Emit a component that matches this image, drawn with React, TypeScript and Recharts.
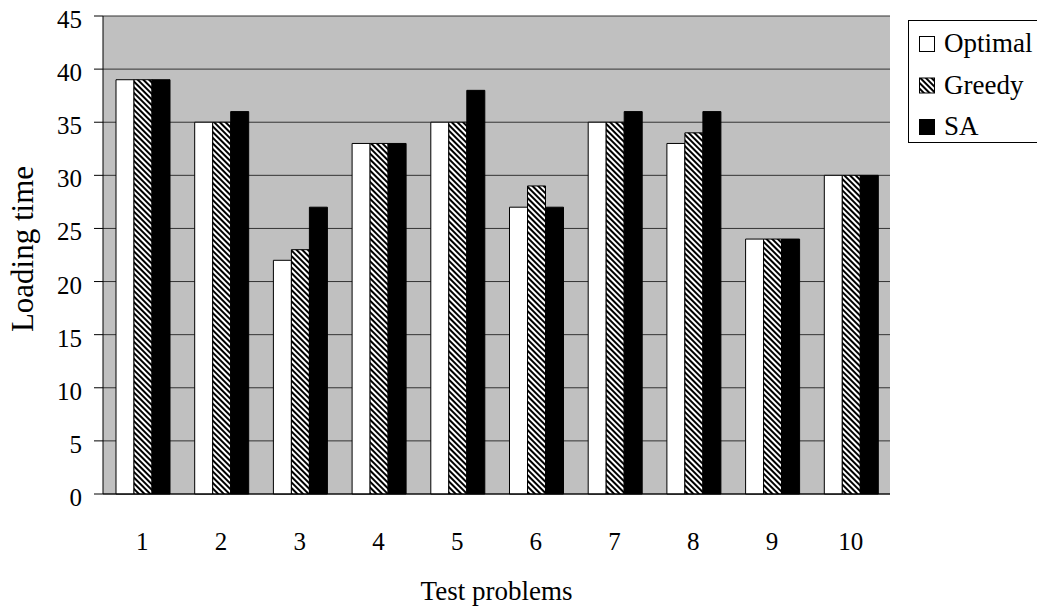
import { BarChart, Bar, XAxis, YAxis, CartesianGrid, Legend } from 'recharts';

const problems = ['1', '2', '3', '4', '5', '6', '7', '8', '9', '10'];
const optimal = [39, 35, 22, 33, 35, 27, 35, 33, 24, 30];
const greedy = [39, 35, 23, 33, 35, 29, 35, 34, 24, 30];
const sa = [39, 36, 27, 33, 38, 27, 36, 36, 24, 30];
const yTicks = [0, 5, 10, 15, 20, 25, 30, 35, 40, 45];
const boundaryTicks = [0, 1, 2, 3, 4, 5, 6, 7, 8, 9, 10];

const data = problems.map((p, i) => ({
  problem: p,
  idx: i + 0.5,
  optimal: optimal[i],
  greedy: greedy[i],
  sa: sa[i],
}));

const FONT = "'Liberation Serif', 'Times New Roman', serif";
const textStyle = { fontFamily: FONT, fill: '#000' };

const series = [
  { key: 'optimal', name: 'Optimal', fill: '#ffffff' },
  { key: 'greedy', name: 'Greedy', fill: 'url(#hatch)' },
  { key: 'sa', name: 'SA', fill: '#000000' },
];

// boundary tick marks that cross the category axis
const BoundaryTick = ({ x, y, index }: any) => (
  <line x1={x} x2={x} y1={index === 0 ? y : y - 8} y2={y + 8} stroke="#000" strokeWidth={1} />
);

const CategoryTick = ({ x, y, payload }: any) => (
  <text x={x} y={y + 18} textAnchor="middle" fontSize={25} style={textStyle}>
    {payload.value}
  </text>
);

const ValueTick = ({ x, y, payload }: any) => (
  <text x={x - 12} y={y + 12} textAnchor="end" fontSize={25} style={textStyle}>
    {payload.value}
  </text>
);

const LegendBox = () => (
  <div
    style={{
      position: 'absolute',
      left: 908,
      top: 20,
      width: 140,
      height: 123,
      border: '1px solid #000',
      background: '#fff',
      boxSizing: 'border-box',
    }}
  >
    <svg width={140} height={121} style={{ display: 'block' }}>
      <defs>
        <pattern id="legendHatch" patternUnits="userSpaceOnUse" width={4} height={4} patternTransform="rotate(-45)">
          <rect width={4} height={4} fill="#fff" />
          <rect width={2} height={4} fill="#000" />
        </pattern>
      </defs>
      {series.map((s, i) => (
        <g key={s.key} transform={`translate(0, ${i * 41.5})`}>
          <rect
            x={10.5}
            y={15.5}
            width={15}
            height={15}
            fill={s.key === 'greedy' ? 'url(#legendHatch)' : s.fill}
            stroke="#000"
          />
          <text x={35} y={31} fontSize={27} style={textStyle}>
            {s.name}
          </text>
        </g>
      ))}
    </svg>
  </div>
);

export default function App() {
  return (
    <div
      style={{
        position: 'absolute',
        left: 0,
        top: 0,
        width: 1037,
        height: 609,
        background: '#fff',
        overflow: 'hidden',
        fontFamily: FONT,
      }}
    >
      <BarChart
        width={1037}
        height={609}
        data={data}
        margin={{ top: 16, right: 147, bottom: 0, left: 0 }}
        barGap={0}
        barCategoryGap={13}
        style={{ fontFamily: FONT }}
      >
        <defs>
          <pattern id="hatch" patternUnits="userSpaceOnUse" width={4} height={4} patternTransform="rotate(-45)">
            <rect width={4} height={4} fill="#fff" />
            <rect width={2} height={4} fill="#000" />
          </pattern>
        </defs>
        <CartesianGrid vertical={false} fill="#c0c0c0" stroke="#333" strokeOpacity={1} />
        <XAxis
          dataKey="problem"
          height={115}
          tickLine={false}
          tickSize={0}
          tickMargin={38}
          axisLine={{ stroke: '#000' }}
          tick={<CategoryTick />}
          label={{ value: 'Test problems', position: 'insideBottom', offset: 9, fontSize: 27, style: textStyle }}
        />
        <XAxis
          xAxisId="bounds"
          type="number"
          dataKey="idx"
          domain={[0, 10]}
          ticks={boundaryTicks}
          height={0}
          axisLine={false}
          tickLine={false}
          tickSize={0}
          tickMargin={0}
          tick={<BoundaryTick />}
        />
        <YAxis
          width={103}
          domain={[0, 45]}
          ticks={yTicks}
          interval={0}
          tickSize={9}
          tickMargin={0}
          axisLine={{ stroke: '#000' }}
          tickLine={{ stroke: '#000' }}
          tick={<ValueTick />}
          label={{
            value: 'Loading time',
            angle: -90,
            position: 'center',
            dx: -29.5,
            dy: -6,
            fontSize: 31,
            style: textStyle,
          }}
        />
        <Legend content={<LegendBox />} wrapperStyle={{ position: 'absolute', left: 0, top: 0, width: 0, height: 0 }} />
        {series.map((s) => (
          <Bar
            key={s.key}
            dataKey={s.key}
            name={s.name}
            fill={s.fill}
            stroke="#000"
            strokeWidth={1}
            isAnimationActive={false}
          />
        ))}
      </BarChart>
    </div>
  );
}
